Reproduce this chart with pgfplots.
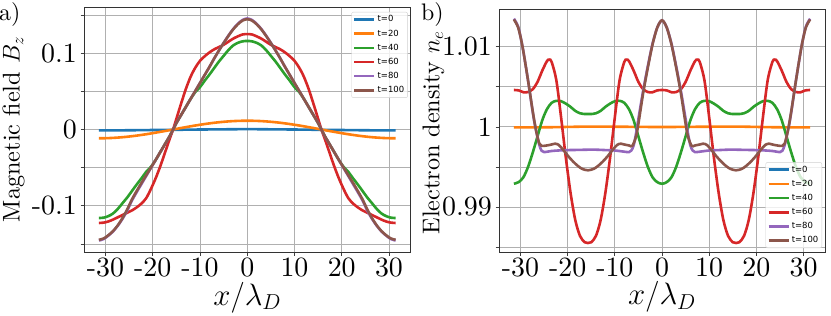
\RequirePackage{fix-cm}
\documentclass[border=0pt]{standalone}
\usepackage{fontspec}
\setmainfont{lmroman10-regular.otf}
\usepackage{pgfplots}
\usepackage{pgfplotstable}
\pgfplotsset{compat=1.18}
\newfontfamily\legendfont{DejaVu Sans}
\definecolor{c0}{HTML}{1F77B4}
\definecolor{c1}{HTML}{FF7F0E}
\definecolor{c2}{HTML}{2CA02C}
\definecolor{c3}{HTML}{D62728}
\definecolor{c4}{HTML}{9467BD}
\definecolor{c5}{HTML}{8C564B}
\definecolor{gridgray}{HTML}{B0B0B0}

\pgfplotstableread{
x b0 b20 b40 b60 b80 b100
-31.4 -0.0012 -0.0115 -0.116 -0.1225 -0.1455 -0.1445
-30.4 -0.0012 -0.01144 -0.1155 -0.122 -0.1435 -0.1428
-29.4 -0.0012 -0.01128 -0.1135 -0.1205 -0.139 -0.1385
-28.4 -0.0012 -0.01098 -0.110 -0.118 -0.1335 -0.133
-27.4 -0.0011 -0.01058 -0.104 -0.115 -0.126 -0.1255
-26.4 -0.0011 -0.01009 -0.0965 -0.112 -0.117 -0.116
-25.4 -0.0010 -0.00949 -0.089 -0.109 -0.106 -0.1045
-24.4 -0.0010 -0.00878 -0.0805 -0.106 -0.093 -0.0915
-23.4 -0.0009 -0.00801 -0.072 -0.102 -0.082 -0.0805
-22.4 -0.0008 -0.00712 -0.064 -0.097 -0.0715 -0.070
-21.4 -0.0008 -0.00621 -0.0555 -0.090 -0.061 -0.060
-20.4 -0.0007 -0.0052 -0.049 -0.078 -0.0505 -0.050
-19.4 -0.0006 -0.00415 -0.040 -0.064 -0.040 -0.040
-18.4 -0.0006 -0.00306 -0.0295 -0.048 -0.0295 -0.0295
-17.4 -0.0005 -0.00197 -0.019 -0.030 -0.019 -0.019
-16.4 -0.0004 -0.00079 -0.0085 -0.012 -0.0085 -0.0085
-15.7 -0.0004 0.0 0.0 0.0 0.0 0.0
-15 -0.0003 0.00081 0.0085 0.014 0.0085 0.0085
-14 -0.0003 0.00196 0.019 0.034 0.019 0.019
-13 -0.0002 0.00307 0.0295 0.053 0.0295 0.0295
-12 -0.0001 0.00417 0.040 0.069 0.040 0.040
-11 -0.0001 0.00522 0.049 0.081 0.0505 0.0505
-10 0.0 0.00621 0.0555 0.090 0.061 0.061
-9 0.0 0.00715 0.064 0.096 0.0715 0.0715
-8 0.0001 0.00801 0.072 0.101 0.082 0.082
-7 0.0001 0.0088 0.0805 0.105 0.093 0.093
-6 0.0002 0.00949 0.089 0.108 0.1035 0.1033
-5 0.0002 0.01009 0.0965 0.111 0.1135 0.1132
-4 0.0003 0.01059 0.104 0.115 0.123 0.1225
-3 0.0003 0.01099 0.110 0.119 0.1315 0.131
-2 0.0004 0.01127 0.1135 0.122 0.1385 0.1378
-1 0.0004 0.01144 0.1155 0.1245 0.1435 0.1427
0 0.0004 0.0115 0.116 0.125 0.1455 0.1445
1 0.0004 0.01144 0.1155 0.1245 0.1435 0.1427
2 0.0004 0.01127 0.1135 0.122 0.1385 0.1378
3 0.0003 0.01099 0.110 0.119 0.1315 0.131
4 0.0003 0.01059 0.104 0.115 0.123 0.1225
5 0.0002 0.01009 0.0965 0.111 0.1135 0.1132
6 0.0002 0.00949 0.089 0.108 0.1035 0.1033
7 0.0001 0.0088 0.0805 0.105 0.093 0.093
8 0.0001 0.00801 0.072 0.101 0.082 0.082
9 0.0 0.00715 0.064 0.096 0.0715 0.0715
10 0.0 0.00621 0.0555 0.090 0.061 0.061
11 -0.0001 0.00522 0.049 0.081 0.0505 0.0505
12 -0.0001 0.00417 0.040 0.069 0.040 0.040
13 -0.0002 0.00307 0.0295 0.053 0.0295 0.0295
14 -0.0003 0.00196 0.019 0.034 0.019 0.019
15 -0.0003 0.00081 0.0085 0.014 0.0085 0.0085
15.7 -0.0004 0.0 0.0 0.0 0.0 0.0
16.4 -0.0004 -0.00079 -0.0085 -0.012 -0.0085 -0.0085
17.4 -0.0005 -0.00197 -0.019 -0.030 -0.019 -0.019
18.4 -0.0006 -0.00306 -0.0295 -0.048 -0.0295 -0.0295
19.4 -0.0006 -0.00415 -0.040 -0.064 -0.040 -0.040
20.4 -0.0007 -0.0052 -0.049 -0.078 -0.0505 -0.050
21.4 -0.0008 -0.00621 -0.0555 -0.090 -0.061 -0.060
22.4 -0.0008 -0.00712 -0.064 -0.097 -0.0715 -0.070
23.4 -0.0009 -0.00801 -0.072 -0.102 -0.082 -0.0805
24.4 -0.0010 -0.00878 -0.0805 -0.106 -0.093 -0.0915
25.4 -0.0010 -0.00949 -0.089 -0.109 -0.106 -0.1045
26.4 -0.0011 -0.01009 -0.0965 -0.112 -0.117 -0.116
27.4 -0.0011 -0.01058 -0.104 -0.115 -0.126 -0.1255
28.4 -0.0012 -0.01098 -0.110 -0.118 -0.1335 -0.133
29.4 -0.0012 -0.01128 -0.1135 -0.1205 -0.139 -0.1385
30.4 -0.0012 -0.01144 -0.1155 -0.122 -0.1435 -0.1428
31.4 -0.0012 -0.0115 -0.116 -0.1225 -0.1455 -0.1445
}\Bz

\pgfplotsset{
  panel/.style={
    scale only axis,
    xmin=-34.56, xmax=34.56,
    xtick={-30,-20,-10,0,10,20,30},
    xticklabels={-30,-20,-10,0,10,20,30},
    tick label style={font=\fontsize{28}{28}\selectfont, inner sep=0pt},
    xticklabel style={yshift=-2.5bp},
    yticklabel style={xshift=-3.5bp},
    xmajorgrids, ymajorgrids, yminorgrids,
    major grid style={draw=gridgray, line width=0.8bp},
    minor grid style={draw=gridgray, line width=0.8bp},
    tick align=outside,
    tick pos=left,
    major tick length=3.5bp,
    minor tick length=3.5bp,
    every tick/.style={black!75, line width=0.7bp},
    axis line style={black!80, line width=0.8bp},
    xlabel style={font=\fontsize{31}{31}\selectfont, inner sep=0pt, at={(axis description cs:0.5,-0.122)}, anchor=north},
    ylabel style={font=\fontsize{24.3}{24.3}\selectfont, inner sep=0pt},
    every axis plot/.append style={line width=2.6bp, no markers, smooth},
    legend image code/.code={\draw[#1, line width=2.6bp] (0bp,0bp) -- (20bp,0bp);},
    legend cell align=left,
    legend style={font=\legendfont\fontsize{8.5}{9}\selectfont, draw=black!18, rounded corners=2bp,
      fill=white, fill opacity=0.8, text opacity=1, inner sep=1.5bp, row sep=2.4bp},
  }
}

\begin{document}
\begin{tikzpicture}
\useasboundingbox (0,0) rectangle (831bp,316bp);
\begin{axis}[panel,
  at={(84bp,64bp)}, anchor=south west,
  width=326.5bp, height=245bp,
  ymin=-0.1605, ymax=0.1605,
  ytick={-0.1,0,0.1}, yticklabels={-0.1,0,0.1},
  minor ytick={-0.15,-0.05,0.05,0.15},
  xlabel={$x/\lambda_D$},
  ylabel={Magnetic field $B_z$},
  ylabel style={at={(axis description cs:-0.25,0.5)}, anchor=north, rotate=0},
  legend style={at={(0.992,0.98)}, anchor=north east},
]
\addplot[c0] table[x=x, y=b0] {\Bz};
\addplot[c1] table[x=x, y=b20] {\Bz};
\addplot[c2] table[x=x, y=b40] {\Bz};
\addplot[c3] table[x=x, y=b60] {\Bz};
\addplot[c4] table[x=x, y=b80] {\Bz};
\addplot[c5] table[x=x, y=b100] {\Bz};
\legend{t=0,t=20,t=40,t=60,t=80,t=100}
\end{axis}

\begin{axis}[panel,
  at={(499bp,64bp)}, anchor=south west,
  width=326bp, height=243bp,
  ymin=0.98438, ymax=1.01471,
  ytick={0.99,1,1.01}, yticklabels={0.99,1,1.01},
  minor ytick={0.985,0.995,1.005},
  xlabel={$x/\lambda_D$},
  ylabel={Electron density $n_e$},
  ylabel style={at={(axis description cs:-0.235,0.49)}, anchor=north, rotate=0},
  legend style={at={(0.991,0.016)}, anchor=south east},
]
\addplot[c0] coordinates {(-31.4,1) (0,1) (31.4,1)};
\addplot[c1] coordinates {(-31.4,0.99993) (-24,0.99995) (-16,1.00003) (-8,1.00001) (0,0.99998) (8,1.00001) (16,1.00003) (24,0.99995) (31.4,0.99993)};
\addplot[c2] coordinates {
(-31.4,0.9929) (-30.4,0.9931) (-29.4,0.9937) (-28.4,0.9950) (-27.4,0.9968) (-26.4,0.9988) (-25.4,1.0008) (-24.4,1.0022) (-23.4,1.0030) (-22.4,1.00325) (-21.4,1.0032) (-20.4,1.0029) (-19.4,1.0025) (-18.4,1.0020) (-17.4,1.0017) (-16.4,1.0016) (-15.7,1.0016)
(-15,1.0016) (-14,1.0017) (-13,1.0020) (-12,1.0025) (-11,1.0029) (-10,1.0032) (-9,1.00325) (-8,1.0030) (-7,1.0022) (-6,1.0008) (-5,0.9988) (-4,0.9968) (-3,0.9950) (-2,0.9937) (-1,0.9931) (0,0.9929)
(1,0.9931) (2,0.9937) (3,0.9950) (4,0.9968) (5,0.9988) (6,1.0008) (7,1.0022) (8,1.0030) (9,1.00325) (10,1.0032) (11,1.0029) (12,1.0025) (13,1.0020) (14,1.0017) (15,1.0016)
(15.7,1.0016) (16.4,1.0016) (17.4,1.0017) (18.4,1.0020) (19.4,1.0025) (20.4,1.0029) (21.4,1.0032) (22.4,1.00325) (23.4,1.0030) (24.4,1.0022) (25.4,1.0008) (26.4,0.9988) (27.4,0.9968) (28.4,0.9950) (29.4,0.9937) (30.4,0.9931) (31.4,0.9929)};
\addplot[c3] coordinates {
(-31.4,1.0046) (-30.4,1.00455) (-29.4,1.00432) (-28.9,1.0043) (-28.4,1.00435) (-27.4,1.0047) (-26.4,1.0056) (-25.4,1.0070) (-24.4,1.0082) (-23.9,1.0084) (-23.4,1.0081) (-22.4,1.0058) (-21.4,1.0012) (-20.4,0.9962) (-19.4,0.9918) (-18.4,0.9884) (-17.4,0.9864) (-16.4,0.9856) (-15.7,0.9855)
(-15,0.9856) (-14,0.9864) (-13,0.9884) (-12,0.9918) (-11,0.9962) (-10,1.0012) (-9,1.0058) (-8,1.0081) (-7.5,1.0084) (-7,1.0082) (-6,1.0070) (-5,1.0056) (-4,1.0047) (-3,1.00435) (-2.5,1.0043) (-2,1.00432) (-1,1.00455) (0,1.0046)
(1,1.00455) (2,1.00432) (2.5,1.0043) (3,1.00435) (4,1.0047) (5,1.0056) (6,1.0070) (7,1.0082) (7.5,1.0084) (8,1.0081) (9,1.0058) (10,1.0012) (11,0.9962) (12,0.9918) (13,0.9884) (14,0.9864) (15,0.9856)
(15.7,0.9855) (16.4,0.9856) (17.4,0.9864) (18.4,0.9884) (19.4,0.9918) (20.4,0.9962) (21.4,1.0012) (22.4,1.0058) (23.4,1.0081) (23.9,1.0084) (24.4,1.0082) (25.4,1.0070) (26.4,1.0056) (27.4,1.0047) (28.4,1.00435) (28.9,1.0043) (29.4,1.00432) (30.4,1.00455) (31.4,1.0046)};
\addplot[c4] coordinates {
(-31.4,1.0135) (-30.5,1.0125) (-29.7,1.0104) (-29,1.0080) (-28.3,1.0054) (-27.5,1.0022) (-27,1.0004) (-26.5,0.9990) (-26,0.9977) (-25.5,0.9970) (-25,0.99685) (-24.5,0.99688) (-23.5,0.99698) (-22,0.99705) (-20,0.9971) (-18,0.99712) (-15.7,0.99715) (-14,0.99715) (-12,0.9971) (-10,0.99705) (-8,0.9969) (-7,0.99685) (-6.5,0.99705) (-6,0.9977) (-5.5,0.9992) (-5,1.0010) (-4,1.0045) (-3,1.0076) (-2,1.0104) (-1,1.0124) (0,1.0133)
(1,1.0124) (2,1.0104) (3,1.0076) (4,1.0045) (5,1.0010) (5.5,0.9992) (6,0.9977) (6.5,0.99705) (7,0.99685) (8,0.9969) (10,0.99705) (12,0.9971) (14,0.99715) (15.7,0.99715) (18,0.99712) (20,0.9971) (22,0.99705) (23.5,0.99698) (24.5,0.99688) (25,0.99685) (25.5,0.9970) (26,0.9977) (26.5,0.9990) (27,1.0004) (27.5,1.0022) (28.3,1.0054) (29,1.0080) (29.7,1.0104) (30.5,1.0125) (31.4,1.0135)};
\addplot[c5] coordinates {
(-31.4,1.0134) (-30.5,1.0124) (-29.7,1.0104) (-29,1.0080) (-28.3,1.0054) (-27.5,1.0023) (-27,1.0005) (-26.5,0.9990) (-26,0.9979) (-25.5,0.99762) (-24.4,0.99768) (-23.4,0.9978) (-22.7,0.9979) (-21.9,0.99775) (-20.9,0.9971) (-19.9,0.99635) (-18.9,0.9957) (-17.9,0.99515) (-16.9,0.99475) (-15.7,0.99458)
(-14.5,0.99475) (-13.5,0.99515) (-12.5,0.9957) (-11.5,0.99635) (-10.5,0.9971) (-9.5,0.99775) (-8.7,0.9979) (-8,0.9978) (-7,0.99768) (-6.3,0.99762) (-5.5,0.9988) (-5,1.0004) (-4,1.0042) (-3,1.0074) (-2,1.0103) (-1,1.0124) (0,1.0133)
(1,1.0124) (2,1.0103) (3,1.0074) (4,1.0042) (5,1.0004) (5.5,0.9988) (6.3,0.99762) (7,0.99768) (8,0.9978) (8.7,0.9979) (9.5,0.99775) (10.5,0.9971) (11.5,0.99635) (12.5,0.9957) (13.5,0.99515) (14.5,0.99475)
(15.7,0.99458) (16.9,0.99475) (17.9,0.99515) (18.9,0.9957) (19.9,0.99635) (20.9,0.9971) (21.9,0.99775) (22.7,0.9979) (23.4,0.9978) (24.4,0.99768) (25.5,0.99762) (26,0.9979) (26.5,0.9990) (27,1.0005) (27.5,1.0023) (28.3,1.0054) (29,1.0080) (29.7,1.0104) (30.5,1.0124) (31.4,1.0134)};
\legend{t=0,t=20,t=40,t=60,t=80,t=100}
\end{axis}

\node[anchor=north west, inner sep=0pt, font=\fontsize{24}{24}\selectfont] at (-1bp,314bp) {a)};
\node[anchor=north west, inner sep=0pt, font=\fontsize{24}{24}\selectfont] at (421bp,314bp) {b)};
\end{tikzpicture}
\end{document}
